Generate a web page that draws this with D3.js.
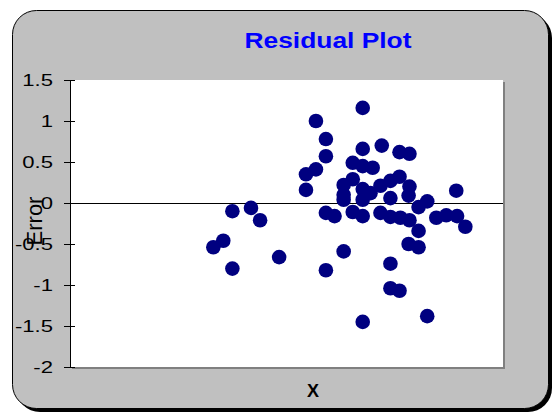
<!DOCTYPE html>
<html>
<head>
<meta charset="utf-8">
<script src="https://cdn.jsdelivr.net/npm/d3@7"></script>
<style>
  body { margin: 0; background: #fff; }
  text { font-family: Arial, "Liberation Sans", sans-serif; }
</style>
</head>
<body>
<div id="chart"></div>
<script>
// residual plot data (x read on a 0-100 scale, error on the y axis)
var xVals = [33.1, 35.4, 37.5, 41.8, 43.9, 37.5, 48.3,
  54.5, 54.5, 56.8, 59.1, 59.1, 56.8, 67.6, 72.0, 76.1, 78.4, 67.6, 65.3, 67.6, 69.9,
  63.2, 65.3, 63.2, 63.2, 65.3, 67.6, 67.6, 67.6, 69.4, 71.7, 74.0, 76.1, 78.4, 78.2, 74.0,
  71.7, 74.0, 76.3, 78.4, 80.5, 82.5, 84.6, 86.9, 89.4, 91.3, 89.2, 80.5, 78.2, 80.5,
  59.1, 61.1, 63.2, 59.1, 74.0, 74.0, 76.1, 67.6, 82.5]
var errVals = [-0.54, -0.46, -0.10, -0.06, -0.21, -0.80, -0.66,
  0.16, 0.35, 0.41, 0.57, 0.78, 1.00, 1.16, 0.70, 0.62, 0.60, 0.66, 0.49, 0.45, 0.43,
  0.22, 0.29, 0.10, 0.04, -0.11, 0.17, 0.04, -0.16, 0.12, 0.21, 0.27, 0.32, 0.20, 0.09, 0.06,
  -0.12, -0.17, -0.18, -0.21, -0.05, 0.02, -0.18, -0.15, -0.16, -0.29, 0.15, -0.34, -0.50, -0.54,
  -0.12, -0.16, -0.59, -0.82, -0.74, -1.04, -1.07, -1.45, -1.38]
var yTicks = [-2, -1.5, -1, -0.5, 0, 0.5, 1, 1.5]
var titleText = 'Residual Plot'
var xTitle = 'X'
var yTitle = 'Error'

var width = 560
var height = 416
var plot = { left: 70, right: 503, top: 80, bottom: 367 }
var stretch = 1.3 // excel text comes out wider than normal

var svg = d3.select('#chart').append('svg').attr('width', width).attr('height', height)

// outer frame with black drop shadow
svg.append('rect').attr('x', 16).attr('y', 14).attr('width', 536).attr('height', 398)
    .attr('rx', 24).attr('fill', '#000')
svg.append('rect').attr('x', 12.5).attr('y', 10.5).attr('width', 536).attr('height', 398)
    .attr('rx', 24).attr('fill', '#c0c0c0').attr('stroke', '#000').attr('stroke-width', 1)

// plot area
svg.append('rect').attr('x', plot.left + 2).attr('y', plot.top + 2)
    .attr('width', plot.right - plot.left).attr('height', plot.bottom - plot.top).attr('fill', '#808080')
svg.append('rect').attr('x', plot.left).attr('y', plot.top)
    .attr('width', plot.right - plot.left).attr('height', plot.bottom - plot.top).attr('fill', '#fff')

var xScale = d3.scaleLinear().domain([0, 100]).range([plot.left, plot.right])
var yScale = d3.scaleLinear().domain([-2, 1.5]).range([plot.bottom, plot.top])

// zero line
var y0 = Math.round(yScale(0)) + 0.5
svg.append('line').attr('x1', plot.left).attr('x2', plot.right)
    .attr('y1', y0).attr('y2', y0).attr('stroke', '#000').attr('stroke-width', 1)

// y axis, excel style cross ticks
var yAxis = d3.axisLeft(yScale).tickValues(yTicks).tickSize(5)
    .tickFormat(d => String(d))
var gy = svg.append('g').attr('transform', `translate(${plot.left},0)`).call(yAxis)
gy.select('.domain').attr('stroke', '#000').attr('d', `M0.5,${plot.top}V${plot.bottom}`)
gy.selectAll('.tick line').attr('x1', -6).attr('x2', 5).attr('stroke', '#000')
gy.selectAll('.tick text').attr('font-size', 17).attr('fill', '#000')
    .attr('font-family', 'Arial, "Liberation Sans", sans-serif')
    .attr('x', -17 / stretch).attr('transform', `scale(${stretch},1)`)

// points
svg.append('g').selectAll('circle').data(xVals).join('circle')
    .attr('cx', d => xScale(d)).attr('cy', (d, i) => yScale(errVals[i]))
    .attr('r', 7.3).attr('fill', '#000080')

// titles
svg.append('text').attr('x', 328).attr('y', 48).attr('text-anchor', 'middle')
    .attr('font-size', 22).attr('font-weight', 'bold').attr('fill', '#0000ff')
    .attr('textLength', 167).attr('lengthAdjust', 'spacingAndGlyphs').text(titleText)
svg.append('text').attr('x', 313).attr('y', 397).attr('text-anchor', 'middle')
    .attr('font-size', 18).attr('font-weight', 'bold').attr('fill', '#000').text(xTitle)
svg.append('text').attr('transform', `translate(42,221) rotate(-90)`).attr('text-anchor', 'middle')
    .attr('font-size', 22).attr('fill', '#000').text(yTitle)
</script>
</body>
</html>
